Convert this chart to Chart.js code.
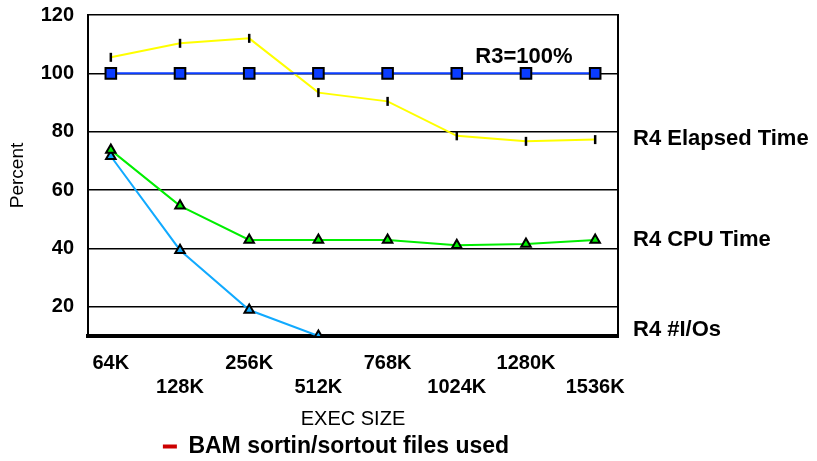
<!DOCTYPE html>
<html>
<head>
<meta charset="utf-8">
<script src="https://cdn.jsdelivr.net/npm/chart.js@4/dist/chart.umd.min.js"></script>
<style>
    html, body { margin: 0; padding: 0; background: #ffffff; }
    #wrap { width: 817px; height: 461px; }
</style>
</head>
<body>
<div id="wrap"><canvas id="chart" width="817" height="461"></canvas></div>
<script>
// exec sizes along the x axis
const execSizes = ['64K', '128K', '256K', '512K', '768K', '1024K', '1280K', '1536K'];

// percent of R3
const r3Values = [100, 100, 100, 100, 100, 100, 100, 100];
const elapsedValues = [105.5, 110.3, 112, 93.4, 90.4, 78.6, 76.7, 77.3];
const cpuValues = [73.7, 54.6, 42.9, 42.9, 42.9, 41.1, 41.5, 42.9];
const ioValues = [71.6, 39.4, 18.9, 10, null, null, null, null];

const yTicks = [20, 40, 60, 80, 100, 120];

// text labels on the right, placed at a y value
const sideLabels = ['R4 Elapsed Time', 'R4 CPU Time', 'R4 #I/Os'];
const sideLabelValues = [77.5, 43, 12];
const r3Label = 'R3=100%';
const legendText = 'BAM sortin/sortout files used';

Chart.defaults.font.family = "'Liberation Sans', Arial, sans-serif";
Chart.defaults.color = '#000000';

// turn a value list into {x, y} points for the linear x scale
function toPoints(values) {
    return values.map((v, i) => ({ x: i, y: v }));
}

// draws the text labels next to the plot
const sideText = {
    id: 'sideText',
    afterDatasetsDraw(chart) {
        const ctx = chart.ctx;
        const x = chart.scales.x;
        const y = chart.scales.y;
        ctx.save();
        ctx.fillStyle = '#000000';
        ctx.font = "bold 22px 'Liberation Sans', Arial, sans-serif";
        ctx.textBaseline = 'middle';
        ctx.textAlign = 'left';
        sideLabels.forEach((text, i) => {
            ctx.fillText(text, chart.chartArea.right + 15, y.getPixelForValue(sideLabelValues[i]));
        });
        ctx.textAlign = 'center';
        ctx.fillText(r3Label, x.getPixelForValue(6) - 2, y.getPixelForValue(105.6));
        ctx.restore();
    }
};

const ctx = document.getElementById('chart').getContext('2d');

new Chart(ctx, {
    type: 'line',
    data: {
        datasets: [
            {
                label: 'R3',
                data: toPoints(r3Values),
                borderColor: '#0a3cff',
                borderWidth: 2,
                backgroundColor: '#0a3cff',
                pointStyle: 'rect',
                pointRadius: 7.5,
                pointBorderColor: '#000000',
                pointBorderWidth: 2,
                pointBackgroundColor: '#0a3cff'
            },
            {
                label: 'R4 Elapsed Time',
                data: toPoints(elapsedValues),
                borderColor: '#ffff00',
                borderWidth: 2,
                pointStyle: 'line',
                pointRotation: 90,
                pointRadius: 4.5,
                pointBorderColor: '#000000',
                pointBorderWidth: 2.5
            },
            {
                label: 'R4 CPU Time',
                data: toPoints(cpuValues),
                borderColor: '#00ee00',
                borderWidth: 2,
                pointStyle: 'triangle',
                pointRadius: 5.5,
                pointBorderColor: '#000000',
                pointBorderWidth: 2,
                pointBackgroundColor: '#00ee00'
            },
            {
                label: 'R4 #I/Os',
                data: toPoints(ioValues),
                borderColor: '#11aaff',
                borderWidth: 2,
                pointStyle: 'triangle',
                pointRadius: 5.5,
                pointBorderColor: '#000000',
                pointBorderWidth: 2,
                pointBackgroundColor: '#11aaff'
            }
        ]
    },
    options: {
        responsive: false,
        animation: false,
        layout: {
            padding: { top: 15, left: 0, right: 145, bottom: -7 }
        },
        elements: {
            line: { tension: 0 }
        },
        scales: {
            x: {
                type: 'linear',
                min: -0.33,
                max: 7.33,
                afterBuildTicks: function (scale) {
                    scale.ticks = execSizes.map((s, i) => ({ value: i }));
                },
                afterFit: function (scale) {
                    scale.height = 95;
                },
                grid: { display: false, drawTicks: false },
                border: { display: true, color: '#000000', width: 4 },
                ticks: {
                    padding: 15,
                    maxRotation: 0,
                    autoSkip: false,
                    font: { size: 20, weight: 'bold', lineHeight: 1.2 },
                    callback: function (value, index) {
                        const label = execSizes[index];
                        // stagger every second label onto a second row
                        return index % 2 === 0 ? label : ['', label];
                    }
                },
                title: {
                    display: true,
                    text: 'EXEC SIZE',
                    font: { size: 20, lineHeight: 1.2 },
                    padding: { top: 0, bottom: 0 }
                }
            },
            y: {
                min: 10,
                max: 120,
                afterBuildTicks: function (scale) {
                    scale.ticks = yTicks.map(v => ({ value: v }));
                },
                afterFit: function (scale) {
                    scale.width = 88;
                    // the layout padding already leaves room for the top label
                    scale.paddingTop = 0;
                    scale.paddingBottom = 0;
                },
                grid: { color: '#000000', lineWidth: 1.5, drawTicks: false },
                border: { display: true, color: '#000000', width: 2 },
                ticks: {
                    padding: 14,
                    font: { size: 20, weight: 'bold' }
                },
                title: {
                    display: true,
                    text: 'Percent',
                    font: { size: 19, lineHeight: 1.2 },
                    padding: { top: 6, bottom: 0 }
                }
            },
            y2: {
                position: 'right',
                min: 10,
                max: 120,
                afterFit: function (scale) {
                    scale.width = 54;
                    scale.paddingTop = 0;
                    scale.paddingBottom = 0;
                },
                grid: { display: false, drawTicks: false },
                border: { display: true, color: '#000000', width: 2 },
                ticks: { display: false }
            }
        },
        plugins: {
            legend: {
                position: 'bottom',
                labels: {
                    boxWidth: 14,
                    boxHeight: 4,
                    padding: 4,
                    font: { size: 23, weight: 'bold' },
                    generateLabels: function () {
                        return [{
                            text: legendText,
                            fillStyle: '#cc0000',
                            strokeStyle: '#cc0000',
                            lineWidth: 0,
                            hidden: false,
                            datasetIndex: 0
                        }];
                    }
                },
                onClick: null
            },
            tooltip: { enabled: false }
        }
    },
    plugins: [sideText]
});
</script>
</body>
</html>
